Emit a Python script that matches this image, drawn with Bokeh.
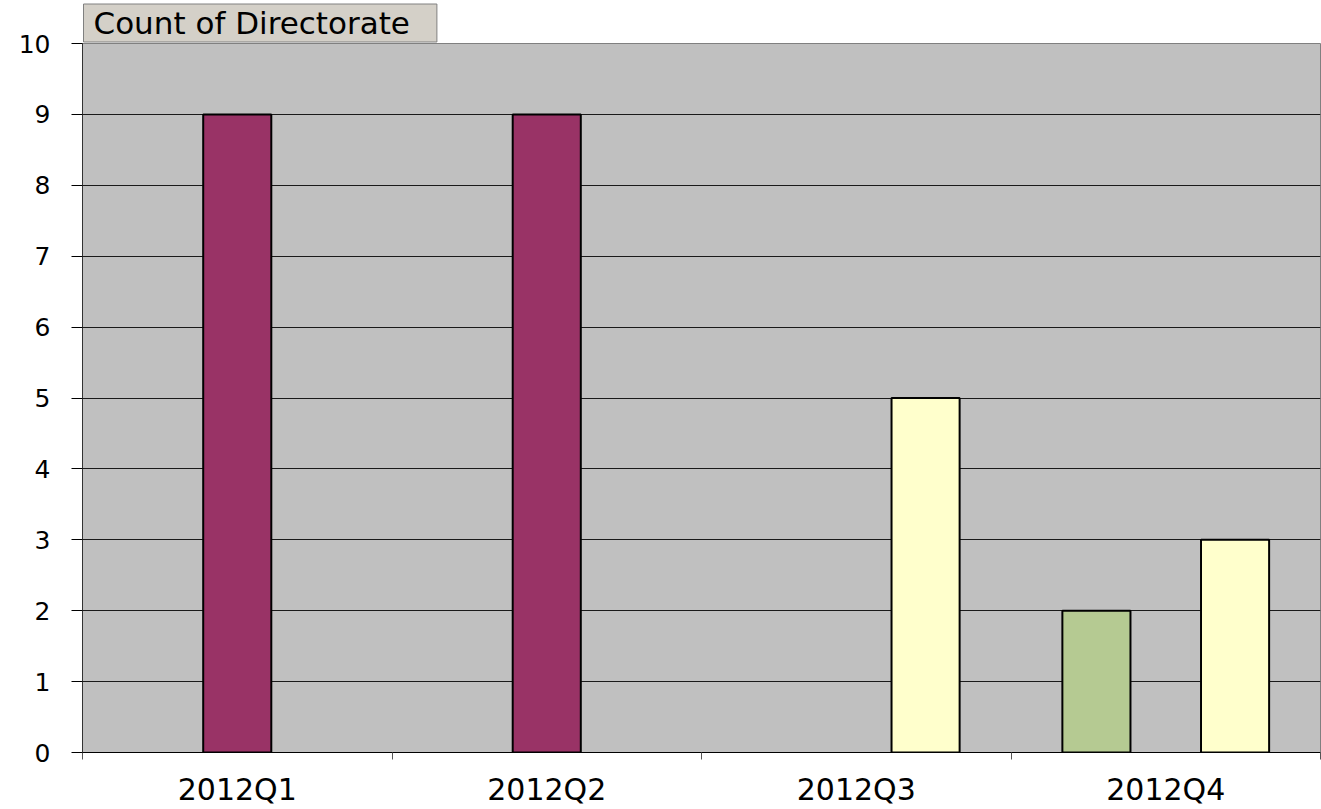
from bokeh.plotting import figure
from bokeh.models import ColumnDataSource, FixedTicker, Range1d
from bokeh.transform import dodge
from bokeh.embed import file_html
from bokeh.resources import INLINE

# ---- data ----
quarters = ["2012Q1", "2012Q2", "2012Q3", "2012Q4"]
series_green = [0, 0, 0, 2]
series_maroon = [9, 9, 0, 0]
series_yellow = [0, 0, 5, 3]
y_ticks = [0, 1, 2, 3, 4, 5, 6, 7, 8, 9, 10]
field_button = "Count of Directorate"

FONT = "DejaVu Sans"
centers = [i + 0.5 for i in range(len(quarters))]

p = figure(width=1321, height=809, output_backend="svg", toolbar_location=None,
           x_range=Range1d(0, len(quarters)), y_range=Range1d(0, 10),
           min_border_left=82, min_border_right=1, min_border_top=43, min_border_bottom=52)
p.background_fill_color = "#C0C0C0"
p.border_fill_color = "white"
p.outline_line_color = "#808080"
p.outline_line_width = 1

series = [
    (series_green, -0.224, "#B5CA92"),
    (series_maroon, 0.0, "#993366"),
    (series_yellow, 0.224, "#FFFFCC"),
]
for vals, off, col in series:
    xs = [c for c, v in zip(centers, vals) if v > 0]
    ys = [v for v in vals if v > 0]
    src = ColumnDataSource(dict(x=xs, top=ys))
    p.vbar(x=dodge("x", off), top="top", bottom=0, width=0.22, source=src,
           fill_color=col, line_color="black", line_width=2)

# x axis
xa = p.xaxis[0]
xa.ticker = FixedTicker(ticks=centers, minor_ticks=list(range(len(quarters) + 1)))
xa.major_label_overrides = {c: q for c, q in zip(centers, quarters)}
xa.major_tick_out = 0
xa.major_tick_in = 0
xa.minor_tick_out = 7
xa.minor_tick_in = 0
xa.minor_tick_line_color = "#555555"
xa.axis_line_color = "black"
xa.major_label_text_font = FONT
xa.major_label_text_font_size = "30px"
xa.major_label_text_color = "black"
xa.major_label_standoff = 12

# y axis
ya = p.yaxis[0]
ya.ticker = FixedTicker(ticks=y_ticks)
ya.major_tick_out = 11
ya.major_tick_in = 0
ya.minor_tick_line_color = None
ya.axis_line_color = "#333333"
ya.major_tick_line_color = "black"
ya.major_label_text_font = FONT
ya.major_label_text_font_size = "25px"
ya.major_label_text_color = "black"
ya.major_label_standoff = 21

p.xgrid.grid_line_color = None
p.ygrid.grid_line_color = "#1a1a1a"
p.ygrid.grid_line_width = 1

# pivot field button, drawn as the title box
t = p.title
t.text = field_button
t.align = "left"
t.offset = 1
t.standoff = 3
t.text_font = FONT
t.text_font_size = "31px"
t.text_font_style = "normal"
t.text_color = "black"
t.background_fill_color = "#D4D0C8"
t.border_line_color = "#808080"
t.border_line_width = 1
t.padding = dict(left=10, right=27, top=1, bottom=1)

open("out.html", "w").write(file_html(p, INLINE))
